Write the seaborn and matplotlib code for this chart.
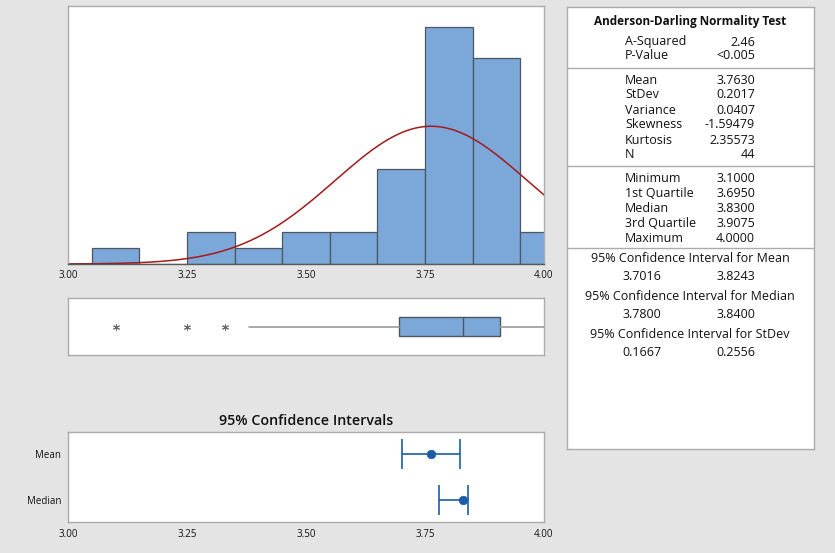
import numpy as np
import pandas as pd
import matplotlib.pyplot as plt
import seaborn as sns

# histogram bins (width 0.1) and counts
bin_edges = [3.05, 3.15, 3.25, 3.35, 3.45, 3.55, 3.65, 3.75, 3.85, 3.95, 4.05]
bin_centers = [3.1, 3.2, 3.3, 3.4, 3.5, 3.6, 3.7, 3.8, 3.9, 4.0]
bin_counts = [1, 0, 2, 1, 2, 2, 6, 15, 13, 2]

# summary stats
n_obs = 44
mean_val = 3.7630
sd_val = 0.2017
box_stats = {"whislo": 3.38, "q1": 3.6950, "med": 3.8300, "q3": 3.9075, "whishi": 4.0000}
outliers = [3.10, 3.25, 3.33]

ci_labels = ["Mean", "Median"]
ci_centers = [3.7630, 3.8300]
ci_low = [3.7016, 3.7800]
ci_high = [3.8243, 3.8400]

ad_rows = [("A-Squared", "2.46"), ("P-Value", "<0.005")]
desc_rows = [("Mean", "3.7630"), ("StDev", "0.2017"), ("Variance", "0.0407"),
             ("Skewness", "-1.59479"), ("Kurtosis", "2.35573"), ("N", "44")]
quart_rows = [("Minimum", "3.1000"), ("1st Quartile", "3.6950"), ("Median", "3.8300"),
              ("3rd Quartile", "3.9075"), ("Maximum", "4.0000")]
ci_rows = [("95% Confidence Interval for Mean", "3.7016", "3.8243"),
           ("95% Confidence Interval for Median", "3.7800", "3.8400"),
           ("95% Confidence Interval for StDev", "0.1667", "0.2556")]

sns.set_style("white")
plt.rcParams["font.family"] = ["Open Sans", "DejaVu Sans"]

bg = "#e4e4e4"
bar_col = "#7ba7d9"
spine_col = "#ababab"
txt_col = "#111111"
ticks = [3.00, 3.25, 3.50, 3.75, 4.00]
tick_lbls = ["3.00", "3.25", "3.50", "3.75", "4.00"]

W, H = 835, 553
fig = plt.figure(figsize=(W / 100, H / 100), dpi=100, facecolor=bg)


def px_axes(left, top, right, bottom):
    return fig.add_axes([left / W, 1 - bottom / H, (right - left) / W, (bottom - top) / H])


def style_spines(ax):
    for s in ax.spines.values():
        s.set_color(spine_col)
        s.set_linewidth(1.0)


# --- histogram with fitted normal curve ---
ax1 = px_axes(68, 6, 544, 264)
hist_df = pd.DataFrame({"x": bin_centers, "w": bin_counts})
sns.histplot(data=hist_df, x="x", weights="w", bins=bin_edges, ax=ax1,
             color=bar_col, edgecolor="#4f5660", linewidth=0.9, alpha=1)
xs = np.linspace(3.0, 4.0, 300)
ys = n_obs * 0.1 * np.exp(-0.5 * ((xs - mean_val) / sd_val) ** 2) / (sd_val * np.sqrt(2 * np.pi))
sns.lineplot(x=xs, y=ys, ax=ax1, color="#a31a1a", linewidth=1.1)
ax1.set_xlim(3.0, 4.0)
ax1.set_ylim(0, 16.3)
ax1.set_xticks(ticks)
ax1.set_xticklabels(tick_lbls)
ax1.set_yticks([])
ax1.set_xlabel("")
ax1.set_ylabel("")
style_spines(ax1)
ax1.spines["bottom"].set_color("#5a5a5a")
ax1.tick_params(axis="x", length=2, pad=2, labelsize=7, colors=txt_col, color="#5a5a5a")

# --- boxplot ---
ax2 = px_axes(68, 298, 544, 355)
stats = dict(box_stats, fliers=outliers)
ax2.bxp([stats], positions=[1], widths=0.35, orientation="horizontal", patch_artist=True,
        showcaps=False,
        boxprops=dict(facecolor=bar_col, edgecolor="#4f5660", linewidth=1.0),
        medianprops=dict(color="#4f5660", linewidth=1.0),
        whiskerprops=dict(color="#9a9a9a", linewidth=1.2),
        flierprops=dict(marker=(6, 2, 0), markeredgecolor="#6a6a6a", markersize=5,
                        markeredgewidth=0.7, linestyle="none"))
ax2.set_xlim(3.0, 4.0)
ax2.set_ylim(0.5, 1.5)
ax2.set_xticks([])
ax2.set_yticks([])
style_spines(ax2)

# --- confidence intervals ---
ax3 = px_axes(68, 432, 544, 522)
ci_df = pd.DataFrame({"label": ci_labels, "center": ci_centers, "low": ci_low, "high": ci_high})
ci_col = "#1c5ca8"
ax3.errorbar(ci_df["center"], [0, 1],
             xerr=[ci_df["center"] - ci_df["low"], ci_df["high"] - ci_df["center"]],
             fmt="none", ecolor=ci_col, elinewidth=1.2, capsize=11, capthick=1.2)
sns.scatterplot(data=ci_df, x="center", y=[0, 1], ax=ax3, color=ci_col, s=38,
                edgecolor=ci_col, zorder=3)
ax3.set_xlim(3.0, 4.0)
ax3.set_ylim(1.477, -0.477)
ax3.set_xticks(ticks)
ax3.set_xticklabels(tick_lbls)
ax3.set_yticks([0, 1])
ax3.set_yticklabels(ci_labels)
ax3.set_xlabel("")
ax3.set_ylabel("")
style_spines(ax3)
ax3.tick_params(axis="both", length=3, pad=2, labelsize=7, colors=txt_col, color="#9a9a9a")
ax3.set_title("95% Confidence Intervals", fontsize=10.3, color=txt_col, pad=5, fontweight="semibold")

# --- summary table panel ---
ax4 = px_axes(567, 7, 814, 449)
ax4.set_xlim(567, 814)
ax4.set_ylim(449, 7)
ax4.set_xticks([])
ax4.set_yticks([])
style_spines(ax4)
fs = 9
ax4.text(690, 22, "Anderson-Darling Normality Test", ha="center", va="center",
         fontsize=8.5, fontweight="bold", color=txt_col)
y = 42
for lbl, val in ad_rows:
    ax4.text(625, y, lbl, ha="left", va="center", fontsize=fs, color=txt_col)
    ax4.text(755, y, val, ha="right", va="center", fontsize=fs, color=txt_col)
    y += 13.5
for hy in [68, 166, 248]:
    ax4.axhline(hy, color=spine_col, linewidth=1.0)
y = 80
for lbl, val in desc_rows:
    ax4.text(625, y, lbl, ha="left", va="center", fontsize=fs, color=txt_col)
    ax4.text(755, y, val, ha="right", va="center", fontsize=fs, color=txt_col)
    y += 15
y = 178
for lbl, val in quart_rows:
    ax4.text(625, y, lbl, ha="left", va="center", fontsize=fs, color=txt_col)
    ax4.text(755, y, val, ha="right", va="center", fontsize=fs, color=txt_col)
    y += 15.25
y = 258
for head, lo, hi in ci_rows:
    ax4.text(690, y, head, ha="center", va="center", fontsize=fs, color=txt_col)
    ax4.text(642, y + 19, lo, ha="center", va="center", fontsize=fs, color=txt_col)
    ax4.text(736, y + 19, hi, ha="center", va="center", fontsize=fs, color=txt_col)
    y += 38

fig.savefig("out.png", dpi=100, facecolor=bg)
